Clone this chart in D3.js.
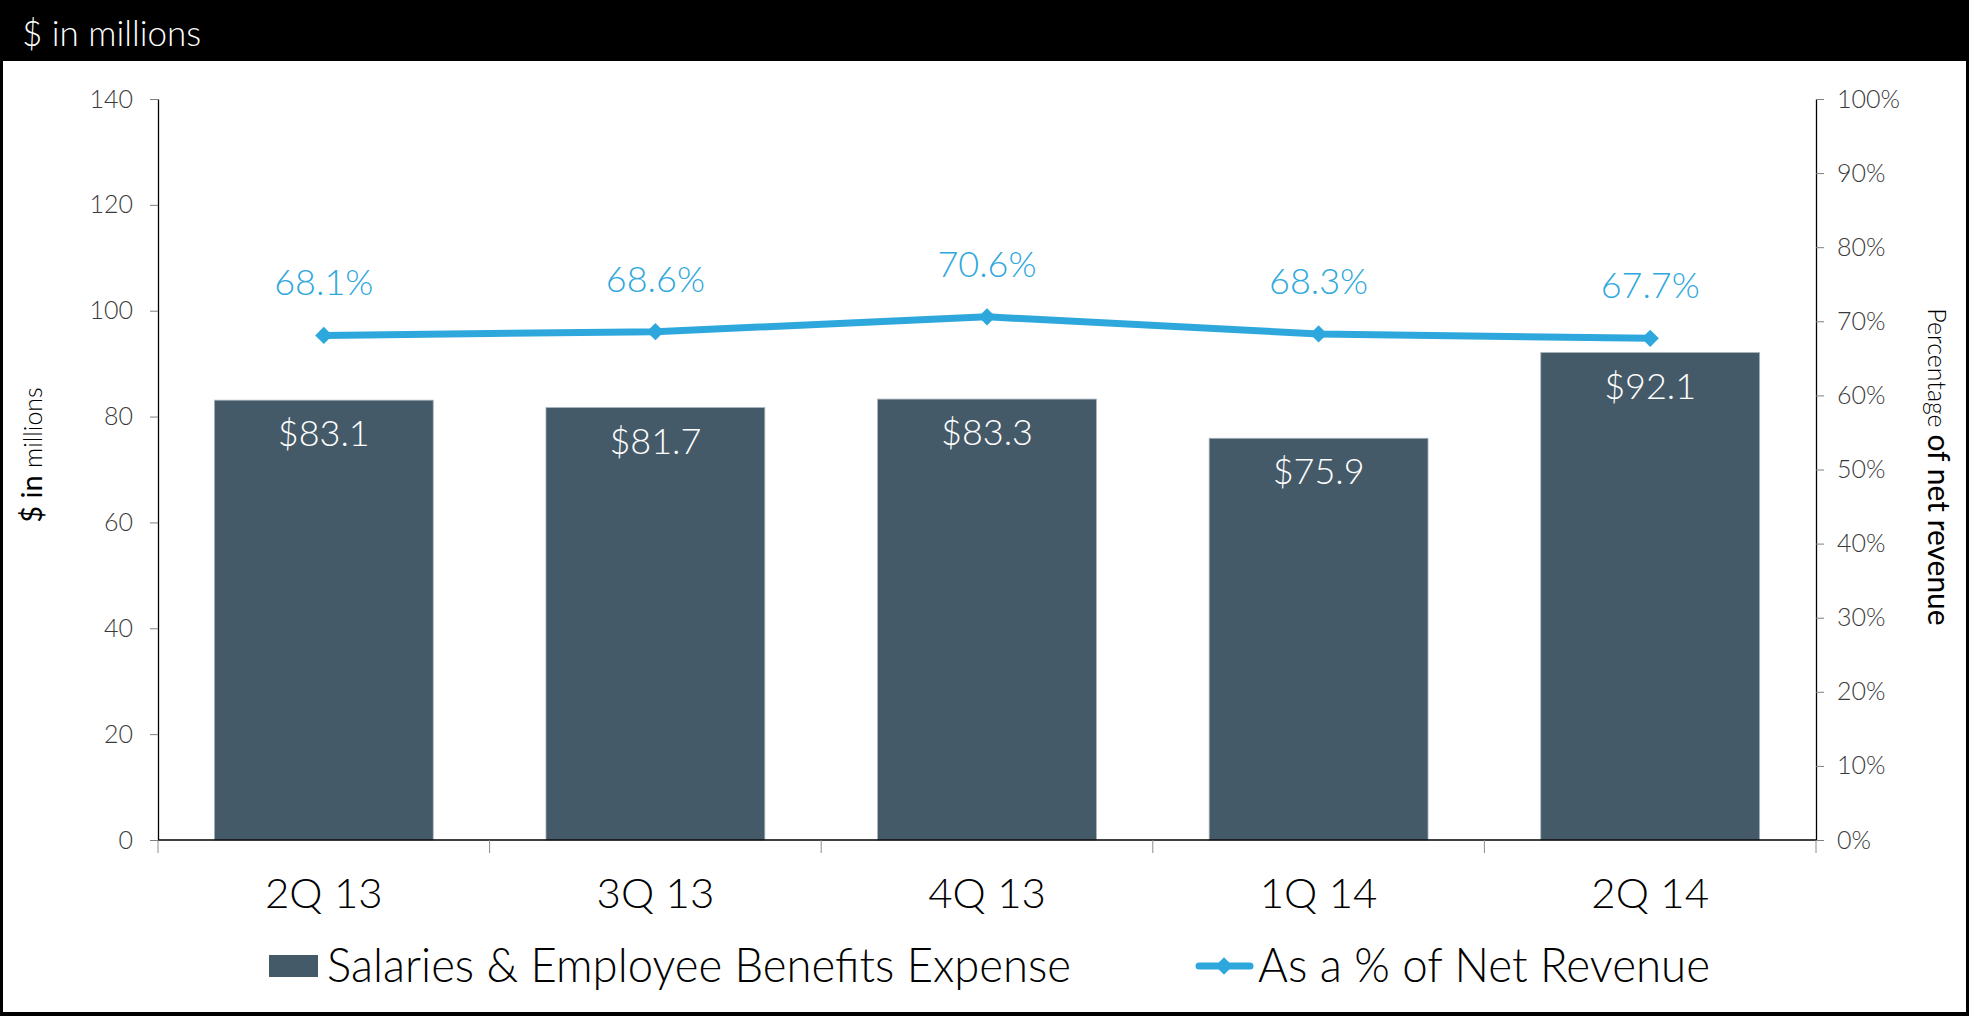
<!DOCTYPE html>
<html>
<head>
<meta charset="utf-8">
<script src="https://cdn.jsdelivr.net/npm/d3@7"></script>
<style>
  html, body { margin: 0; padding: 0; background: #000; }
  svg { display: block; }
  text { font-family: Lato, "Open Sans", sans-serif; }
</style>
</head>
<body>
<svg id="chart" width="1969" height="1016"></svg>
<script>
// Quarterly salaries & benefits expense ($M) and its share of net revenue (%)
const quarters = ["2Q 13", "3Q 13", "4Q 13", "1Q 14", "2Q 14"];
const expense = [83.1, 81.7, 83.3, 75.9, 92.1];
const pctOfRevenue = [68.1, 68.6, 70.6, 68.3, 67.7];
const leftTicks = [0, 20, 40, 60, 80, 100, 120, 140];
const rightTicks = [0, 10, 20, 30, 40, 50, 60, 70, 80, 90, 100];

const BAR = "#455a69";
const LINE = "#2ea8dc";

const W = 1969, H = 1016;
const plot = { left: 158, right: 1816, top: 99, bottom: 840 };

const svg = d3.select("#chart");

// Frame: black header band and white panel
svg.append("rect").attr("width", W).attr("height", H).attr("fill", "#000");
svg.append("rect").attr("x", 3).attr("y", 61).attr("width", W - 6).attr("height", 951).attr("fill", "#fff");
svg.append("text")
  .attr("x", 22).attr("y", 46)
  .attr("fill", "#fff").attr("font-size", 35).attr("font-weight", 300)
  .text("$ in millions");

const x = d3.scaleBand().domain(quarters)
  .range([plot.left, plot.right]).paddingInner(0.34).paddingOuter(0.17);
const yL = d3.scaleLinear().domain([0, 140]).range([plot.bottom, plot.top]);
const yR = d3.scaleLinear().domain([0, 100]).range([plot.bottom, plot.top]);

// Bars
svg.append("g").selectAll("rect").data(quarters).join("rect")
  .attr("x", d => x(d))
  .attr("y", (d, i) => yL(expense[i]))
  .attr("width", x.bandwidth())
  .attr("height", (d, i) => yL(0) - yL(expense[i]))
  .attr("fill", BAR)
  .attr("stroke", "#a9b3bb").attr("stroke-width", 0.8);

// Bar value labels
svg.append("g").selectAll("text").data(quarters).join("text")
  .attr("x", d => x(d) + x.bandwidth() / 2)
  .attr("y", (d, i) => yL(expense[i]) + 46)
  .attr("text-anchor", "middle")
  .attr("fill", "#fff").attr("font-size", 36).attr("font-weight", 300)
  .text((d, i) => "$" + expense[i].toFixed(1));

// Left axis
const axL = svg.append("g").attr("transform", `translate(${plot.left},0)`)
  .call(d3.axisLeft(yL).tickValues(leftTicks).tickSize(8).tickPadding(17).tickSizeOuter(0));
axL.select(".domain").attr("stroke", "#000").attr("stroke-width", 1.3);
axL.selectAll(".tick line").attr("stroke", "#7f7f7f");
axL.selectAll(".tick text").attr("font-size", 25).attr("font-weight", 300)
  .attr("fill", "#3a3a3a").attr("font-family", "Lato, 'Open Sans', sans-serif");

// Right axis
const axR = svg.append("g").attr("transform", `translate(${plot.right},0)`)
  .call(d3.axisRight(yR).tickValues(rightTicks).tickSize(8).tickPadding(13).tickSizeOuter(0)
    .tickFormat(d => d + "%"));
axR.select(".domain").attr("stroke", "#000").attr("stroke-width", 1.3);
axR.selectAll(".tick line").attr("stroke", "#7f7f7f");
axR.selectAll(".tick text").attr("font-size", 25).attr("font-weight", 300)
  .attr("fill", "#3a3a3a").attr("font-family", "Lato, 'Open Sans', sans-serif");

// Category axis: baseline, boundary ticks, labels
svg.append("line")
  .attr("x1", plot.left).attr("x2", plot.right)
  .attr("y1", plot.bottom).attr("y2", plot.bottom)
  .attr("stroke", "#000").attr("stroke-width", 1.3);
const bounds = d3.range(quarters.length + 1).map(i => plot.left + i * x.step());
svg.append("g").selectAll("line").data(bounds).join("line")
  .attr("x1", d => d).attr("x2", d => d)
  .attr("y1", plot.bottom).attr("y2", plot.bottom + 13)
  .attr("stroke", "#8c8c8c").attr("stroke-width", 1);
svg.append("g").selectAll("text").data(quarters).join("text")
  .attr("x", d => x(d) + x.bandwidth() / 2)
  .attr("y", 908)
  .attr("text-anchor", "middle")
  .attr("fill", "#000").attr("font-size", 42).attr("font-weight", 300)
  .text(d => d);

// Percentage line with diamond markers
const pts = quarters.map((q, i) => [x(q) + x.bandwidth() / 2, yR(pctOfRevenue[i])]);
svg.append("path")
  .attr("d", d3.line()(pts))
  .attr("fill", "none").attr("stroke", LINE).attr("stroke-width", 7)
  .attr("stroke-linejoin", "round");
svg.append("g").selectAll("path").data(pts).join("path")
  .attr("transform", d => `translate(${d[0]},${d[1]}) rotate(45)`)
  .attr("d", d3.symbol().type(d3.symbolSquare).size(150))
  .attr("fill", LINE);

svg.append("g").selectAll("text").data(pts).join("text")
  .attr("x", d => d[0])
  .attr("y", d => d[1] - 40)
  .attr("text-anchor", "middle")
  .attr("fill", LINE).attr("font-size", 36).attr("font-weight", 300)
  .text((d, i) => pctOfRevenue[i].toFixed(1) + "%");

// Axis titles
const tl = svg.append("text")
  .attr("transform", "translate(42,455) rotate(-90)")
  .attr("text-anchor", "middle").attr("fill", "#000");
tl.append("tspan").attr("font-size", 29).attr("font-weight", 400).text("$ in ");
tl.append("tspan").attr("font-size", 25).attr("font-weight", 300).text("millions");

const tr = svg.append("text")
  .attr("transform", "translate(1928,467) rotate(90)")
  .attr("text-anchor", "middle").attr("fill", "#000");
tr.append("tspan").attr("font-size", 25).attr("font-weight", 300).text("Percentage ");
tr.append("tspan").attr("font-size", 30).attr("font-weight", 400).text("of net revenue");

// Legend
svg.append("rect").attr("x", 269).attr("y", 955).attr("width", 49).attr("height", 22).attr("fill", BAR);
svg.append("text").attr("x", 327).attr("y", 982)
  .attr("font-size", 48).attr("font-weight", 300).attr("fill", "#000")
  .attr("textLength", 744).attr("lengthAdjust", "spacingAndGlyphs")
  .text("Salaries & Employee Benefits Expense");

svg.append("line").attr("x1", 1199).attr("x2", 1250).attr("y1", 966).attr("y2", 966)
  .attr("stroke", LINE).attr("stroke-width", 7).attr("stroke-linecap", "round");
svg.append("path")
  .attr("transform", "translate(1224,966) rotate(45)")
  .attr("d", d3.symbol().type(d3.symbolSquare).size(150))
  .attr("fill", LINE);
svg.append("text").attr("x", 1258).attr("y", 982)
  .attr("font-size", 48).attr("font-weight", 300).attr("fill", "#000")
  .attr("textLength", 452).attr("lengthAdjust", "spacingAndGlyphs")
  .text("As a % of Net Revenue");
</script>
</body>
</html>
